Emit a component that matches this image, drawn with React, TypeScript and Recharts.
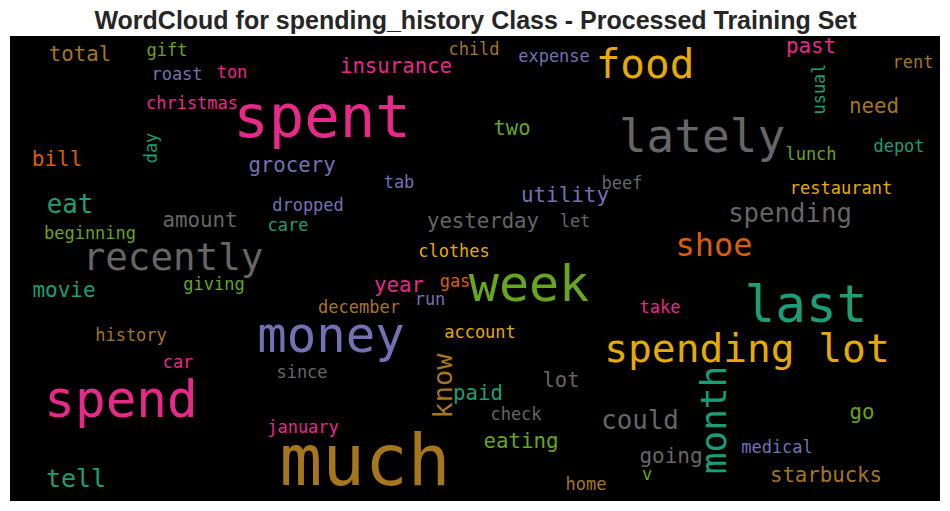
import React from "react";
import { ScatterChart, Scatter, XAxis, YAxis, ReferenceArea } from "recharts";

// Dark2 palette
const palette = ["#1b9e77", "#d95f02", "#7570b3", "#e7298a", "#66a61e", "#e6ab02", "#a6761d", "#666666"];
// 0 teal, 1 orange, 2 purple, 3 pink, 4 green, 5 yellow, 6 brown, 7 gray

const words = [
  "spent", "much", "spend", "money", "week", "last", "lately", "recently", "spending lot", "food",
  "month", "shoe", "spending", "could", "know", "eat", "tell", "total", "insurance", "bill",
  "grocery", "amount", "yesterday", "movie", "year", "paid", "two", "utility", "past", "need",
  "lot", "go", "eating", "going", "starbucks", "gift", "roast", "ton", "christmas", "day",
  "tab", "dropped", "care", "beginning", "clothes", "child", "expense", "rent", "usual", "lunch",
  "depot", "beef", "restaurant", "let", "giving", "gas", "run", "december", "history", "account",
  "car", "since", "january", "take", "check", "medical", "v", "home",
];

// word-cloud layout coordinates (cloud units, 930 x 465 canvas)
const xs = [
  312, 355, 111, 321, 519, 796, 692, 163, 737, 635,
  716, 704, 780, 630, 442, 60, 66, 70, 386, 47,
  282, 190, 473, 54, 389, 468, 502, 555, 801, 864,
  551, 852, 511, 661, 816, 157, 167, 222, 182, 147,
  389, 298, 278, 80, 444, 464, 544, 903, 815, 801,
  889, 612, 831, 565, 204, 445, 420, 349, 121, 470,
  168, 292, 293, 650, 506, 767, 637, 576,
];
const ys = [
  101, 449, 381, 316, 265, 286, 116, 234, 326, 42,
  384, 220, 186, 393, 350, 177, 451, 25, 37, 130,
  136, 191, 192, 261, 256, 364, 99, 166, 17, 77,
  351, 383, 412, 427, 446, 20, 44, 42, 73, 112,
  152, 175, 195, 203, 221, 19, 26, 32, 53, 124,
  116, 153, 158, 191, 254, 251, 269, 277, 305, 302,
  332, 342, 397, 277, 384, 417, 444, 454,
];
// word weight (rendered font size)
const sizes = [
  59, 71, 51, 49, 50, 51, 46, 37.5, 39.5, 41,
  36, 32, 25.7, 25.8, 27, 25.8, 25, 20.7, 20.7, 21,
  20.7, 20.8, 20.7, 21, 20.8, 20.7, 20.5, 20.9, 20.8, 20.8,
  20.5, 20.8, 20.8, 21, 20.7, 17, 17, 17, 17, 17,
  17, 17, 17, 17, 17, 17, 17, 17, 17, 17,
  17, 17, 17, 17, 17, 17, 17, 17, 17, 17,
  17, 17, 17, 17, 17, 17, 17, 17,
];
const colorIdx = [
  3, 6, 3, 2, 4, 0, 7, 7, 5, 5,
  0, 1, 7, 7, 6, 0, 0, 6, 3, 1,
  2, 7, 7, 0, 3, 0, 4, 2, 3, 6,
  7, 4, 4, 7, 6, 4, 2, 3, 3, 0,
  2, 2, 0, 4, 5, 6, 2, 6, 0, 4,
  0, 7, 5, 7, 4, 1, 2, 6, 6, 5,
  3, 7, 3, 3, 7, 2, 4, 6,
];
const rotatedWords = ["month", "know", "day", "usual"];

const data = words.map((w, i) => ({
  word: w,
  x: xs[i],
  y: ys[i],
  size: sizes[i],
  color: palette[colorIdx[i]],
  rot: rotatedWords.includes(w),
}));

const WordShape = (props: any) => {
  const { cx, cy, payload } = props;
  if (cx == null || cy == null) return null;
  return (
    <text
      x={cx}
      y={cy}
      fontSize={payload.size}
      fill={payload.color}
      fontFamily="'DejaVu Sans Mono', monospace"
      textAnchor="middle"
      transform={payload.rot ? `rotate(-90, ${cx}, ${cy})` : undefined}
    >
      {payload.word}
    </text>
  );
};

export default function App() {
  return (
    <div style={{ position: "absolute", left: 0, top: 0, width: 950, height: 511, background: "#fff" }}>
      <svg width={950} height={36} style={{ position: "absolute", left: 0, top: 0 }}>
        <text
          x={475.5}
          y={29}
          textAnchor="middle"
          fontFamily="'Liberation Sans', Arial, sans-serif"
          fontWeight="bold"
          fontSize={25}
          fill="#262626"
        >
          WordCloud for spending_history Class - Processed Training Set
        </text>
      </svg>
      <div style={{ position: "absolute", left: 0, top: 0 }}>
        <ScatterChart width={950} height={511} margin={{ top: 36, right: 10, bottom: 10, left: 10 }}>
          <XAxis type="number" dataKey="x" domain={[0, 930]} allowDataOverflow hide />
          <YAxis type="number" dataKey="y" domain={[0, 465]} allowDataOverflow reversed hide />
          <ReferenceArea x1={0} x2={930} y1={0} y2={465} fill="#000000" fillOpacity={1} stroke="none" />
          <Scatter data={data} shape={WordShape} isAnimationActive={false} />
        </ScatterChart>
      </div>
    </div>
  );
}
